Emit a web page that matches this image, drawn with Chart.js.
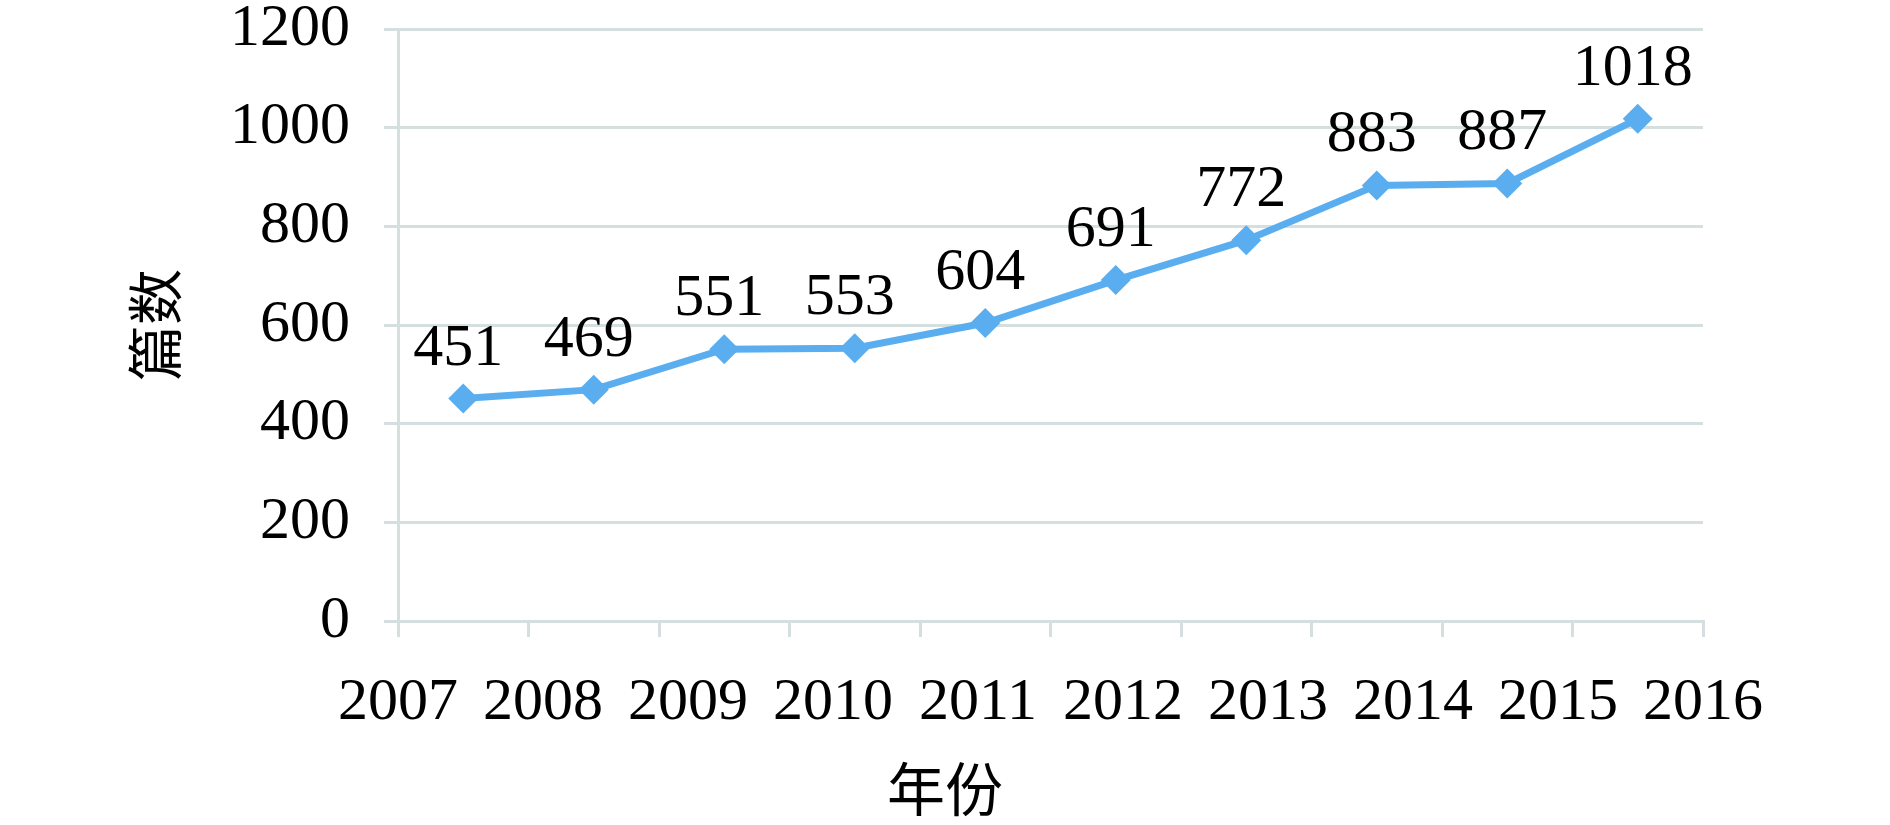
<!DOCTYPE html>
<html>
<head>
<meta charset="utf-8">
<script src="https://cdn.jsdelivr.net/npm/chart.js@4/dist/chart.umd.min.js"></script>
<style>
  html, body { margin: 0; padding: 0; background: #fff; }
  #wrap { width: 1890px; height: 825px; }
</style>
</head>
<body>
<div id="wrap"><canvas id="myChart" width="1890" height="825"></canvas></div>
<script>
// data
const years = ["2007", "2008", "2009", "2010", "2011", "2012", "2013", "2014", "2015", "2016"];
const counts = [451, 469, 551, 553, 604, 691, 772, 883, 887, 1018];
const yTicks = [0, 200, 400, 600, 800, 1000, 1200];
const xTitle = "年份";
const yTitle = "篇数";

const gridGray = "#d6dfdf";
const lineBlue = "#5aaef0";
const serif = "'Liberation Serif', 'Times New Roman', serif";
const cjk = "'Noto Sans CJK SC', sans-serif";

// values above each point + x title centred on the page
const pointLabels = {
  id: "pointLabels",
  afterDatasetsDraw(chart) {
    const ctx = chart.ctx;
    const meta = chart.getDatasetMeta(0);
    ctx.save();
    ctx.font = "60px " + serif;
    ctx.fillStyle = "#000";
    ctx.textAlign = "center";
    ctx.textBaseline = "alphabetic";
    meta.data.forEach((pt, i) => {
      ctx.fillText(String(counts[i]), pt.x - 5, pt.y - 34);
    });
    ctx.font = "58px " + cjk;
    ctx.textBaseline = "middle";
    ctx.fillText(xTitle, chart.width / 2, 789);
    ctx.restore();
  }
};

const config = {
  type: "line",
  data: {
    labels: years,
    datasets: [{
      label: yTitle,
      data: counts,
      borderColor: lineBlue,
      backgroundColor: lineBlue,
      borderWidth: 7,
      pointStyle: "rectRot",
      pointRadius: 15,
      pointHoverRadius: 15,
      pointBorderWidth: 0,
      tension: 0,
      xAxisID: "x",
      yAxisID: "y"
    }]
  },
  options: {
    responsive: false,
    animation: false,
    devicePixelRatio: 1,
    layout: { padding: { left: 0, right: 187, top: 29, bottom: 76 } },
    plugins: {
      legend: { display: false },
      tooltip: { enabled: false }
    },
    scales: {
      x: {
        type: "category",
        position: "bottom",
        offset: true,
        grid: {
          offset: true,
          drawOnChartArea: false,
          drawTicks: true,
          tickLength: 16,
          color: gridGray,
          lineWidth: 3
        },
        border: { display: true, color: gridGray, width: 3 },
        ticks: { display: false },
        afterFit(scale) { scale.height = 16; }
      },
      x2: {
        type: "category",
        position: "bottom",
        labels: years,
        offset: false,
        grid: { display: false, drawTicks: false },
        border: { display: false },
        ticks: {
          color: "#000",
          font: { family: serif, size: 60 },
          padding: 30,
          maxRotation: 0,
          autoSkip: false
        },
        afterFit(scale) { scale.height = 112; }
      },
      y: {
        min: 0,
        max: 1200,
        afterBuildTicks(scale) { scale.ticks = yTicks.map(v => ({ value: v })); },
        grid: {
          color: gridGray,
          lineWidth: 3,
          tickLength: 14
        },
        border: { display: true, color: gridGray, width: 3 },
        ticks: {
          color: "#000",
          font: { family: serif, size: 60 },
          padding: 34,
          callback: v => String(v)
        },
        title: {
          display: true,
          text: yTitle,
          color: "#000",
          font: { family: cjk, size: 56, weight: "normal" },
          padding: { top: 121, bottom: 0 }
        },
        afterFit(scale) {
          scale.width = 398;
          scale.paddingTop = 0;
          scale.paddingBottom = 0;
        }
      }
    }
  },
  plugins: [pointLabels]
};

const myChart = new Chart(document.getElementById("myChart"), config);
</script>
</body>
</html>
